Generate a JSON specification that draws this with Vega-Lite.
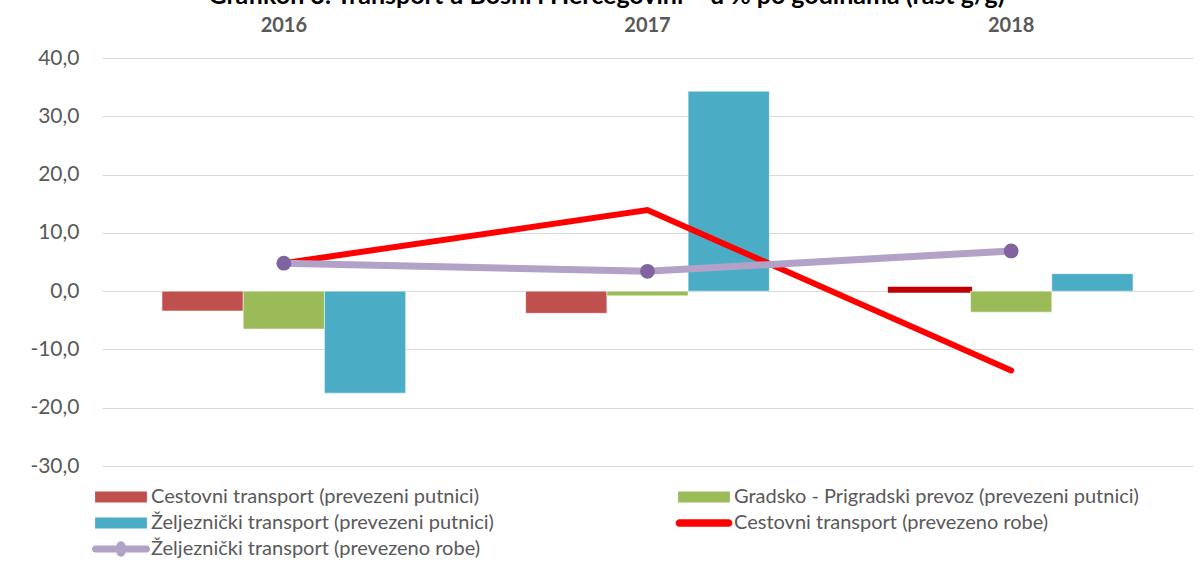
{
  "$schema": "https://vega.github.io/schema/vega-lite/v6.json",
  "width": 1091,
  "height": 408,
  "autosize": {"type": "none"},
  "padding": {"left": 102, "top": 58, "right": 7, "bottom": 97},
  "background": "white",
  "title": {
    "text": "Grafikon 3: Transport u Bosni i Hercegovini – u % po godinama (rast g/g)",
    "anchor": "middle",
    "frame": "group",
    "dx": -41,
    "offset": 6,
    "font": "Lato",
    "fontSize": 25,
    "fontWeight": "bold",
    "color": "#000000"
  },
  "config": {
    "view": {"stroke": null},
    "font": "Lato"
  },
  "data": {
    "values": [
      {"year": "2016", "series": "Cestovni transport (prevezeni putnici)", "kind": "bar", "value": -3.4},
      {"year": "2016", "series": "Gradsko - Prigradski prevoz (prevezeni putnici)", "kind": "bar", "value": -6.5},
      {"year": "2016", "series": "Željeznički transport (prevezeni putnici)", "kind": "bar", "value": -17.5},
      {"year": "2016", "series": "Cestovni transport (prevezeno robe)", "kind": "line", "value": 4.8},
      {"year": "2016", "series": "Željeznički transport (prevezeno robe)", "kind": "line", "value": 4.8},
      {"year": "2017", "series": "Cestovni transport (prevezeni putnici)", "kind": "bar", "value": -3.8},
      {"year": "2017", "series": "Gradsko - Prigradski prevoz (prevezeni putnici)", "kind": "bar", "value": -0.8},
      {"year": "2017", "series": "Željeznički transport (prevezeni putnici)", "kind": "bar", "value": 34.3},
      {"year": "2017", "series": "Cestovni transport (prevezeno robe)", "kind": "line", "value": 13.9},
      {"year": "2017", "series": "Željeznički transport (prevezeno robe)", "kind": "line", "value": 3.4},
      {"year": "2018", "series": "Cestovni transport (prevezeni putnici)", "kind": "bar", "value": 0.5},
      {"year": "2018", "series": "Gradsko - Prigradski prevoz (prevezeni putnici)", "kind": "bar", "value": -3.6},
      {"year": "2018", "series": "Željeznički transport (prevezeni putnici)", "kind": "bar", "value": 3.0},
      {"year": "2018", "series": "Cestovni transport (prevezeno robe)", "kind": "line", "value": -13.6},
      {"year": "2018", "series": "Željeznički transport (prevezeno robe)", "kind": "line", "value": 6.9}
    ]
  },
  "encoding": {
    "x": {
      "field": "year",
      "type": "nominal",
      "scale": {"paddingInner": 0.33, "paddingOuter": 0.165},
      "axis": {
        "orient": "top",
        "title": null,
        "labelAngle": 0,
        "domain": false,
        "ticks": false,
        "grid": false,
        "labelFont": "Lato",
        "labelFontSize": 20,
        "labelFontWeight": "bold",
        "labelColor": "#595959",
        "labelPadding": 23
      }
    },
    "y": {
      "field": "value",
      "type": "quantitative",
      "scale": {"domain": [-30, 40], "nice": false, "zero": false},
      "axis": {
        "title": null,
        "values": [-30, -20, -10, 0, 10, 20, 30, 40],
        "labelExpr": "replace(replace(format(datum.value, '.1f'), '.', ','), '−', '-')",
        "domain": false,
        "ticks": false,
        "gridColor": "#D9D9D9",
        "gridWidth": 1,
        "labelFont": "Lato",
        "labelFontSize": 21,
        "labelColor": "#595959",
        "labelPadding": 23
      }
    },
    "color": {
      "field": "series",
      "type": "nominal",
      "scale": {
        "domain": [
          "Cestovni transport (prevezeni putnici)",
          "Gradsko - Prigradski prevoz (prevezeni putnici)",
          "Željeznički transport (prevezeni putnici)",
          "Cestovni transport (prevezeno robe)",
          "Željeznički transport (prevezeno robe)"
        ],
        "range": ["#C0504D", "#9BBB59", "#4BACC6", "#FF0000", "#B3A2C7"]
      },
      "legend": {
        "title": null,
        "orient": "none",
        "direction": "horizontal",
        "legendX": 9,
        "legendY": 429,
        "padding": 0,
        "columns": 2,
        "columnPadding": 181,
        "rowPadding": 6,
        "labelFont": "Lato",
        "labelFontSize": 20,
        "labelColor": "#595959",
        "labelOffset": 20,
        "labelLimit": 600,
        "symbolSize": 196,
        "symbolStrokeWidth": 0,
        "encode": {
          "symbols": {
            "update": {
              "shape": {"signal": "datum.value == 'Cestovni transport (prevezeno robe)' ? 'M-3.5,-0.55H3.5A0.55,0.55 0 0,1 3.5,0.55H-3.5A0.55,0.55 0 0,1 -3.5,-0.55Z' : (datum.value == 'Željeznički transport (prevezeno robe)' ? 'M-3.65,-0.5H3.65A0.5,0.5 0 0,1 3.65,0.5H-3.65A0.5,0.5 0 0,1 -3.65,-0.5Z M0,-1.1A0.75,1.1 0 1,1 0,1.1A0.75,1.1 0 1,1 0,-1.1Z' : 'M-3.7,-0.8H3.7V0.8H-3.7Z')"},
              "fill": {"signal": "datum.value == 'Željeznički transport (prevezeno robe)' ? '#9B86B8' : scale('color', datum.value)"},
              "fillOpacity": {"value": 1},
              "opacity": {"value": 1},
              "strokeWidth": {"value": 0}
            }
          }
        }
      }
    }
  },
  "layer": [
    {
      "transform": [{"filter": "datum.kind == 'bar'"}],
      "mark": {"type": "bar", "strokeWidth": 1},
      "encoding": {
        "xOffset": {
          "field": "series",
          "type": "nominal",
          "scale": {
            "domain": [
              "Cestovni transport (prevezeni putnici)",
              "Gradsko - Prigradski prevoz (prevezeni putnici)",
              "Željeznički transport (prevezeni putnici)"
            ],
            "paddingInner": 0,
            "paddingOuter": 0
          }
        },
        "y2": {"datum": 0},
        "stroke": {
          "condition": {"test": "datum.year == '2018' && datum.series == 'Cestovni transport (prevezeni putnici)'", "value": "#C00000"},
          "value": "white"
        },
        "strokeWidth": {
          "condition": {"test": "datum.year == '2018' && datum.series == 'Cestovni transport (prevezeni putnici)'", "value": 3},
          "value": 0.5
        }
      }
    },
    {
      "transform": [{"filter": "datum.series == 'Cestovni transport (prevezeno robe)'"}],
      "mark": {"type": "line", "strokeWidth": 6, "strokeCap": "round"},
      "encoding": {}
    },
    {
      "transform": [{"filter": "datum.series == 'Željeznički transport (prevezeno robe)'"}],
      "mark": {"type": "line", "strokeWidth": 7, "strokeCap": "round"},
      "encoding": {}
    },
    {
      "transform": [{"filter": "datum.series == 'Željeznički transport (prevezeno robe)'"}],
      "mark": {"type": "point", "filled": true, "size": 220, "opacity": 1},
      "encoding": {"color": {"value": "#8064A2"}}
    }
  ]
}
